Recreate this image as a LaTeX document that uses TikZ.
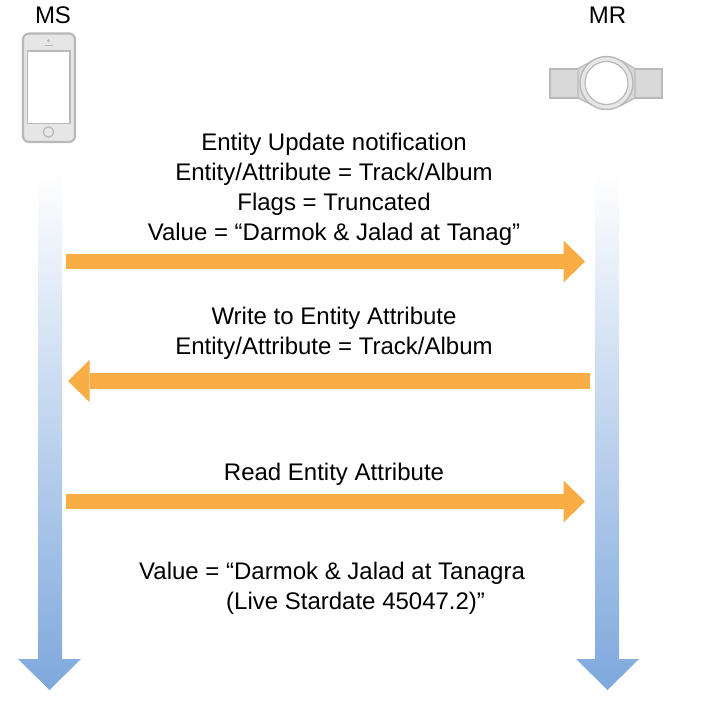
\documentclass[tikz,border=0pt]{standalone}
\usepackage{fontspec}
\setmainfont{Liberation Sans}
\usetikzlibrary{arrows.meta}
\definecolor{flowc}{HTML}{FAAC45}
\definecolor{lifec}{HTML}{7EA8DC}
\definecolor{devline}{HTML}{B9B9B9}
\definecolor{devfill}{HTML}{E6E6E6}
\definecolor{bandfill}{HTML}{D9D9D9}
\tikzset{
  x=1pt,y=-1pt,
  lbl/.style={inner sep=0pt,font=\fontsize{24}{30}\selectfont,align=center,text=black},
  flow/.style={draw=flowc,line width=15.5pt,-{Triangle[width=42pt,length=21.5pt,fill=flowc,line width=0pt]}},
  life/.style={top color=white,bottom color=lifec,draw=none,shading angle=0},
  dev/.style={draw=devline,fill=devfill,line width=2.2pt},
  devthin/.style={draw=devline,fill=white,line width=1.4pt},
}
\begin{document}
\begin{tikzpicture}
\useasboundingbox (0,0) rectangle (711,702);
% names
\node[lbl] (ms) at (53,15.5) {MS};
\node[lbl] (mr) at (607.5,15.5) {MR};
% phone
\draw[dev,rounded corners=6pt] (23,33.5) rectangle (75,142);
\draw[devthin] (27.5,51) rectangle (70,123.5);
\fill[devline] (48.5,40.5) circle (1.5);
\draw[devline,line width=1pt] (45,45.5) -- (52.5,45.5);
\draw[devline,line width=1.2pt,fill=devfill] (48.5,132) circle (5.2);
% watch
\draw[draw=devline,fill=bandfill,line width=1.4pt] (550,69) rectangle (579,98);
\draw[draw=devline,fill=bandfill,line width=1.4pt] (634,69) rectangle (662,98);
\draw[draw=devline,fill=bandfill,line width=1.2pt] (578,68.5) -- (592,61) -- (622,61) -- (635,68.5) -- (635,98) -- (622,105) -- (592,105) -- (578,98) -- cycle;
\draw[draw=devline,fill=devfill,line width=1.4pt] (606.5,83) circle (26.5);
\draw[draw=devline,fill=white,line width=1.2pt] (606.5,83) circle (21.5);
% lifelines
\path[life] (38,172) -- (62,172) -- (62,659) -- (81,659) -- (49.5,690) -- (18,659) -- (38,659) -- cycle;
\path[life] (595,172) -- (619,172) -- (619,659) -- (639,659) -- (607.5,690) -- (576,659) -- (595,659) -- cycle;
% endpoints
\coordinate (a1) at (66,261.5);
\coordinate (b1) at (585,261.5);
\coordinate (a2) at (590,381);
\coordinate (b2) at (68,381);
\coordinate (a3) at (66,501.5);
\coordinate (b3) at (585,501.5);
\draw[flow] (a1) -- (b1);
\draw[flow] (a2) -- (b2);
\draw[flow] (a3) -- (b3);
% labels
\node[lbl] (t1) at (334,189.3) {Entity Update notification\\Entity/Attribute = Track/Album\\Flags = Truncated\\Value = “Darmok \& Jalad at Tanag”};
\node[lbl] (t2) at (334,333.3) {Write to Entity Attribute\\Entity/Attribute = Track/Album};
\node[lbl] (t3) at (334,474) {Read Entity Attribute};
\node[lbl,align=left,anchor=west] (t4) at (139,588) {Value = “Darmok \& Jalad at Tanagra\\\hspace*{87pt}(Live Stardate 45047.2)”};
\end{tikzpicture}
\end{document}
